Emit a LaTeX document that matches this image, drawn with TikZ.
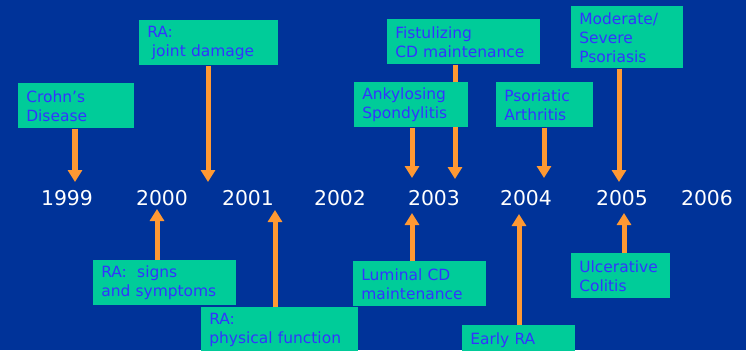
\documentclass[tikz,border=0pt]{standalone}
\usepackage{fontspec}
\setmainfont{DejaVu Sans}
\usetikzlibrary{arrows.meta}
\definecolor{slideblue}{RGB}{0,51,153}
\definecolor{boxgreen}{RGB}{0,204,153}
\definecolor{boxtext}{RGB}{51,51,255}
\definecolor{arrorange}{RGB}{255,153,51}

\begin{document}
\begin{tikzpicture}[x=0.025cm,y=-0.025cm,
  every node/.style={font=\fontsize{11}{13.5}\selectfont},
  box/.style={fill=boxgreen,text=boxtext,anchor=north west,align=left,
    inner xsep=0.2cm,inner ysep=0pt},
  year/.style={text=white,anchor=base,font=\fontsize{14.5}{18}\selectfont},
  arr/.style={draw=arrorange,line width=0.125cm,
    -{Triangle[width=0.35cm,length=0.3cm]}}]
\newcommand{\indication}[6]{%
  \node[box,text width=#4cm,minimum height=#5cm] (#1) at (#2,#3) {#6};}

\useasboundingbox (0,0) rectangle (746,350);
\clip (0,0) rectangle (746,350);
\fill[slideblue] (0,0) rectangle (746,350);

% years
\node[year] (y1999) at (67,205) {1999};
\node[year] (y2000) at (162,205) {2000};
\node[year] (y2001) at (248,205) {2001};
\node[year] (y2002) at (340,205) {2002};
\node[year] (y2003) at (434,205) {2003};
\node[year] (y2004) at (526,205) {2004};
\node[year] (y2005) at (622,205) {2005};
\node[year] (y2006) at (707,205) {2006};

% arrow ends
\coordinate (crohn-tip) at (75,182);
\coordinate (rajd-tip) at (208,182);
\coordinate (fist-tip) at (455,179);
\coordinate (ankyl-tip) at (412,178);
\coordinate (psor-tip) at (544,178);
\coordinate (psoriasis-tip) at (619,182);
\coordinate (signs-tip) at (157,209);
\coordinate (physf-tip) at (275,210);
\coordinate (lumin-tip) at (412,213);
\coordinate (early-tip) at (519,214);
\coordinate (ulcer-tip) at (624,213);

% above the years
\indication{fist}{387}{19}{3.425}{1.125}{Fistulizing\\CD maintenance}
\draw[arr] (fist.south -| fist-tip) -- (fist-tip);
\indication{rajd}{139}{20}{3.075}{1.125}{RA:\\\hspace*{0.3em}joint damage}
\draw[arr] (rajd.south -| rajd-tip) -- (rajd-tip);
\indication{psoriasis}{571}{6}{2.4}{1.55}{Moderate/\\Severe\\Psoriasis}
\draw[arr] (psoriasis.south -| psoriasis-tip) -- (psoriasis-tip);
\indication{crohn}{18}{83}{2.5}{1.125}{Crohn's\\Disease}
\draw[arr] (crohn.south -| crohn-tip) -- (crohn-tip);
\indication{ankyl}{354}{82}{2.45}{1.125}{Ankylosing\\Spondylitis}
\draw[arr] (ankyl.south -| ankyl-tip) -- (ankyl-tip);
\indication{psor}{496}{82}{2.025}{1.125}{Psoriatic\\Arthritis}
\draw[arr] (psor.south -| psor-tip) -- (psor-tip);

% below the years
\indication{signs}{93}{260}{3.175}{1.125}{RA:\ \ signs\\and symptoms}
\draw[arr] (signs.north -| signs-tip) -- (signs-tip);
\indication{physf}{201}{307}{3.525}{1.125}{RA:\\physical function}
\draw[arr] (physf.north -| physf-tip) -- (physf-tip);
\indication{lumin}{353}{261}{2.925}{1.125}{Luminal CD\\maintenance}
\draw[arr] (lumin.north -| lumin-tip) -- (lumin-tip);
\node[box,text width=2.425cm,minimum height=1.125cm,text depth=13.5pt]
  (early) at (462,325) {Early RA};
\draw[arr] (early.north -| early-tip) -- (early-tip);
\indication{ulcer}{571}{253}{2.075}{1.125}{Ulcerative\\Colitis}
\draw[arr] (ulcer.north -| ulcer-tip) -- (ulcer-tip);
\end{tikzpicture}
\end{document}
